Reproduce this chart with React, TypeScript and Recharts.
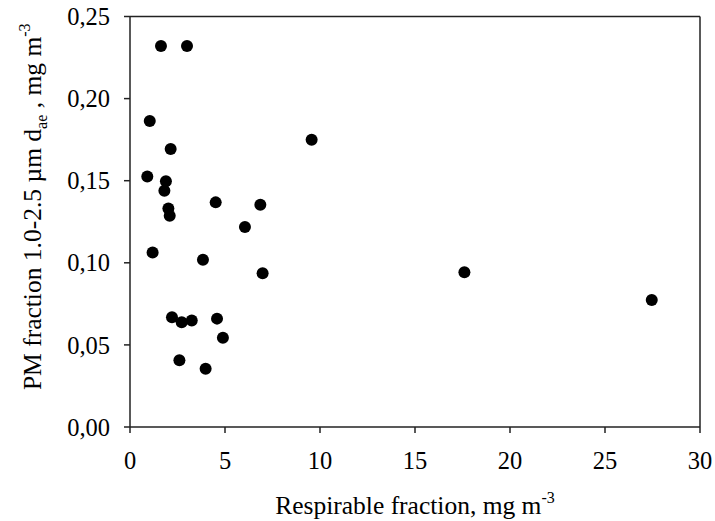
import React from 'react';
import {
  ScatterChart,
  Scatter,
  XAxis,
  YAxis,
  ReferenceLine,
} from 'recharts';

// Respirable fraction (mg m-3) vs PM 1.0-2.5 fraction (mg m-3)
const respirable = [
  1.63, 3.0, 1.04, 2.14, 0.91, 1.89, 1.81, 4.51, 6.86, 2.02, 2.09, 6.05,
  1.19, 3.84, 6.98, 2.21, 2.72, 3.25, 4.58, 4.89, 2.6, 3.98, 9.56, 17.6, 27.46,
];
const pmFraction = [
  0.232, 0.232, 0.1864, 0.1693, 0.1526, 0.1496, 0.1439, 0.1368, 0.1354, 0.1331,
  0.1287, 0.1218, 0.1063, 0.1018, 0.0937, 0.0669, 0.0638, 0.0648, 0.066, 0.0543,
  0.0407, 0.0355, 0.175, 0.0943, 0.0774,
];

const xTicks = [0, 5, 10, 15, 20, 25, 30];
const yTicks = [0, 0.05, 0.1, 0.15, 0.2, 0.25];

const FONT = '"Liberation Serif", "Times New Roman", serif';
const AXIS = '#222';

const points = respirable.map((x, i) => ({ x, y: pmFraction[i] }));

function Dot(props: any) {
  return <circle cx={props.cx} cy={props.cy} r={6} fill="#000" />;
}

function YLabel(props: any) {
  const vb = props.viewBox || { x: 50, y: 16.5, width: 80, height: 410.5 };
  const cx = vb.x - 9;
  const cy = vb.y + vb.height / 2 - 15;
  return (
    <text
      x={cx}
      y={cy}
      transform={`rotate(-90, ${cx}, ${cy})`}
      textAnchor="middle"
      fontFamily={FONT}
      fontSize={25.5}
      fill="#000"
    >
      PM fraction 1.0-2.5 µm d
      <tspan fontSize={16} dy={6}>ae</tspan>
      <tspan dy={-6}> , mg m</tspan>
      <tspan fontSize={16} dy={-11}>-3</tspan>
    </text>
  );
}

function XLabel(props: any) {
  const vb = props.viewBox || { x: 130, y: 427, width: 570, height: 60 };
  const cx = vb.x + vb.width / 2;
  const cy = vb.y + 86.5;
  return (
    <text x={cx} y={cy} textAnchor="middle" fontFamily={FONT} fontSize={25.5} fill="#000">
      Respirable fraction, mg m
      <tspan fontSize={16} dy={-11}>-3</tspan>
    </text>
  );
}

export default function App() {
  return (
    <div style={{ position: 'absolute', left: 0, top: 0, width: 715, height: 521, background: '#fff' }}>
      <ScatterChart
        width={715}
        height={521}
        margin={{ top: 16.5, right: 15, left: 50, bottom: 34 }}
      >
        <XAxis
          type="number"
          dataKey="x"
          domain={[0, 30]}
          ticks={xTicks}
          interval={0}
          height={60}
          stroke={AXIS}
          strokeWidth={1.5}
          tickSize={6}
          tickMargin={19}
          tick={{ fill: '#000', fontFamily: FONT, fontSize: 24.5 }}
          label={(p: any) => <XLabel {...p} />}
        />
        <YAxis
          type="number"
          dataKey="y"
          domain={[0, 0.25]}
          ticks={yTicks}
          interval={0}
          width={80}
          stroke={AXIS}
          strokeWidth={1.5}
          tickSize={6}
          tickMargin={14}
          tickFormatter={(v: number) => v.toFixed(2).replace('.', ',')}
          tick={{ fill: '#000', fontFamily: FONT, fontSize: 24.5 }}
          label={(p: any) => <YLabel {...p} />}
        />
        <ReferenceLine y={0.25} stroke={AXIS} strokeWidth={1.5} />
        <ReferenceLine x={30} stroke={AXIS} strokeWidth={1.5} />
        <Scatter data={points} shape={Dot} isAnimationActive={false} />
      </ScatterChart>
    </div>
  );
}
